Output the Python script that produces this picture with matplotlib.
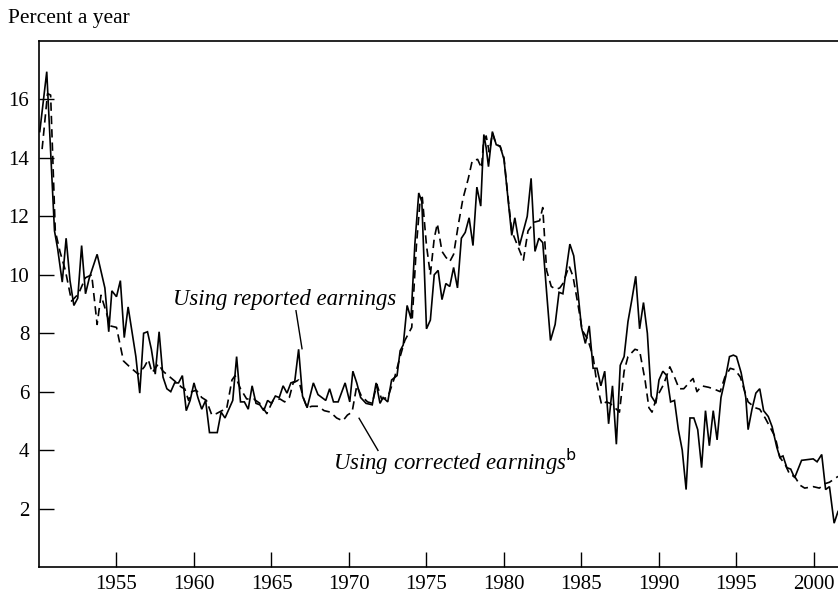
import matplotlib
matplotlib.use("Agg")
import matplotlib.pyplot as plt

# Reported earnings series (year, percent a year)
years_reported = [
    1950.05, 1950.5, 1951.0, 1951.2, 1951.5, 1951.75, 1952.0, 1952.25, 1952.5, 1952.75,
    1953.0, 1953.25, 1953.75, 1954.25, 1954.5, 1954.7, 1955.0, 1955.25, 1955.5, 1955.75,
    1956.25, 1956.5, 1956.75, 1957.0, 1957.25, 1957.5, 1957.75, 1958.0, 1958.25, 1958.5,
    1958.75, 1959.0, 1959.25, 1959.5, 1959.75, 1960.0, 1960.25, 1960.5, 1960.75, 1961.0,
    1961.5, 1961.75, 1962.0, 1962.5, 1962.75, 1963.0, 1963.25, 1963.5, 1963.75, 1964.0,
    1964.25, 1964.5, 1964.75, 1965.0, 1965.25, 1965.5, 1965.75, 1966.0, 1966.25, 1966.5,
    1966.75, 1967.0, 1967.3, 1967.7, 1968.0, 1968.5, 1968.75, 1969.0, 1969.3, 1969.75,
    1970.05, 1970.25, 1970.5, 1970.75, 1971.1, 1971.5, 1971.75, 1972.0, 1972.2, 1972.5,
    1972.75, 1973.1, 1973.3, 1973.5, 1973.75, 1974.0, 1974.25, 1974.5, 1974.7, 1975.0,
    1975.25, 1975.5, 1975.75, 1976.0, 1976.25, 1976.5, 1976.75, 1977.0, 1977.25, 1977.5,
    1977.75, 1978.0, 1978.25, 1978.5, 1978.7, 1978.85, 1979.0, 1979.25, 1979.5, 1979.75,
    1980.0, 1980.25, 1980.5, 1980.7, 1981.0, 1981.5, 1981.75, 1982.0, 1982.25, 1982.5,
    1982.75, 1983.0, 1983.3, 1983.55, 1983.8, 1984.25, 1984.5, 1984.8, 1985.0, 1985.25,
    1985.5, 1985.75, 1986.0, 1986.25, 1986.5, 1986.75, 1987.0, 1987.25, 1987.5, 1987.75,
    1988.0, 1988.25, 1988.5, 1988.75, 1989.0, 1989.25, 1989.5, 1989.8, 1990.0, 1990.25,
    1990.5, 1990.75, 1991.0, 1991.25, 1991.5, 1991.75, 1992.0, 1992.25, 1992.5, 1992.75,
    1993.0, 1993.25, 1993.5, 1993.75, 1994.0, 1994.3, 1994.55, 1994.8, 1995.0, 1995.3,
    1995.6, 1995.75, 1996.0, 1996.25, 1996.5, 1996.75, 1997.05, 1997.3, 1997.6, 1997.8,
    1998.0, 1998.25, 1998.5, 1998.75, 1999.2, 1999.95, 2000.2, 2000.5, 2000.75, 2001.0,
    2001.3, 2001.55,
]
rate_reported = [
    14.9, 16.95, 11.5, 10.9, 9.75, 11.25, 9.8, 8.95, 9.2, 11.0,
    9.35, 9.9, 10.7, 9.55, 8.05, 9.45, 9.25, 9.8, 7.85, 8.9,
    7.2, 5.95, 8.0, 8.05, 7.45, 6.6, 8.05, 6.5, 6.1, 6.0,
    6.3, 6.3, 6.55, 5.35, 5.7, 6.3, 5.8, 5.4, 5.7, 4.6,
    4.6, 5.3, 5.1, 5.7, 7.2, 5.65, 5.65, 5.4, 6.2, 5.6,
    5.55, 5.35, 5.7, 5.6, 5.85, 5.8, 6.2, 5.95, 6.3, 6.35,
    7.45, 5.85, 5.45, 6.3, 5.9, 5.7, 6.1, 5.65, 5.65, 6.3,
    5.65, 6.7, 6.3, 5.8, 5.6, 5.55, 6.3, 5.6, 5.8, 5.65,
    6.4, 6.55, 7.4, 7.6, 8.95, 8.5, 11.05, 12.8, 12.5, 8.15,
    8.45, 10.0, 10.15, 9.15, 9.7, 9.6, 10.25, 9.55, 11.25, 11.45,
    11.95, 11.0, 13.0, 12.35, 14.8, 14.35, 13.7, 14.9, 14.45, 14.4,
    13.95, 12.65, 11.35, 11.95, 11.0, 12.0, 13.3, 10.8, 11.25, 11.1,
    9.4, 7.75, 8.3, 9.4, 9.35, 11.05, 10.65, 9.25, 8.2, 7.65,
    8.25, 6.8, 6.8, 6.2, 6.7, 4.9, 6.2, 4.2, 6.9, 7.2,
    8.4, 9.15, 9.95, 8.15, 9.05, 8.0, 5.85, 5.6, 6.4, 6.7,
    6.55, 5.65, 5.7, 4.7, 4.0, 2.65, 5.1, 5.1, 4.7, 3.4,
    5.35, 4.15, 5.35, 4.35, 5.8, 6.5, 7.2, 7.25, 7.2, 6.65,
    5.8, 4.7, 5.4, 5.95, 6.1, 5.35, 5.15, 4.8, 4.1, 3.75,
    3.8, 3.4, 3.35, 3.05, 3.65, 3.7, 3.6, 3.85, 2.65, 2.75,
    1.5, 1.9,
]

# Corrected earnings series (year, percent a year)
years_corrected = [
    1950.2, 1950.55, 1950.75, 1951.05, 1951.35, 1951.7, 1952.1, 1952.55, 1953.0, 1953.4,
    1953.75, 1954.0, 1954.35, 1954.6, 1955.0, 1955.45, 1955.85, 1956.4, 1956.8, 1957.05,
    1957.3, 1957.7, 1958.0, 1958.45, 1958.9, 1959.2, 1959.4, 1959.65, 1959.85, 1960.15,
    1960.5, 1960.8, 1961.15, 1961.45, 1961.8, 1962.1, 1962.45, 1962.65, 1963.0, 1963.4,
    1963.85, 1964.25, 1964.7, 1965.1, 1965.55, 1965.85, 1966.15, 1966.4, 1966.75, 1967.05,
    1967.3, 1967.6, 1968.0, 1968.4, 1968.8, 1969.2, 1969.6, 1969.9, 1970.2, 1970.5,
    1970.8, 1971.2, 1971.5, 1971.8, 1972.1, 1972.5, 1972.95, 1973.3, 1973.6, 1974.05,
    1974.35, 1974.58, 1974.73, 1975.0, 1975.25, 1975.5, 1975.7, 1976.0, 1976.25, 1976.5,
    1976.75, 1977.05, 1977.35, 1977.7, 1977.95, 1978.3, 1978.55, 1978.68, 1978.85, 1979.05,
    1979.25, 1979.5, 1979.75, 1980.0, 1980.25, 1980.5, 1980.8, 1981.25, 1981.55, 1981.95,
    1982.3, 1982.5, 1982.75, 1983.05, 1983.35, 1983.6, 1983.8, 1984.2, 1984.45, 1984.8,
    1985.05, 1985.4, 1985.75, 1986.0, 1986.3, 1986.6, 1986.85, 1987.15, 1987.45, 1987.75,
    1988.0, 1988.45, 1988.75, 1989.1, 1989.35, 1989.55, 1989.85, 1990.3, 1990.7, 1991.0,
    1991.3, 1991.6, 1992.1, 1992.2, 1992.45, 1992.75, 1993.2, 1993.5, 1993.95, 1994.25,
    1994.6, 1994.9, 1995.25, 1995.45, 1995.75, 1996.2, 1996.5, 1996.85, 1997.15, 1997.5,
    1997.8, 1998.15, 1998.45, 1998.75, 1999.1, 1999.4, 1999.95, 2000.35, 2000.7, 2001.0,
    2001.55,
]
rate_corrected = [
    14.3, 16.2, 16.15, 11.5, 10.8, 10.15, 9.1, 9.35, 9.9, 10.0,
    8.3, 9.3, 8.7, 8.25, 8.2, 7.05, 6.85, 6.6, 6.85, 7.1,
    6.65, 6.95, 6.7, 6.5, 6.3, 6.15, 6.1, 5.7, 6.0, 6.05,
    5.8, 5.7, 5.2, 5.25, 5.35, 5.4, 6.4, 6.55, 6.1, 5.75,
    5.75, 5.6, 5.25, 5.7, 5.75, 5.65, 5.8, 6.3, 6.4, 5.8,
    5.45, 5.5, 5.5, 5.35, 5.3, 5.1, 5.0, 5.2, 5.3, 6.2,
    5.85, 5.65, 5.6, 6.25, 5.75, 5.8, 6.5, 7.2, 7.75, 8.2,
    11.0, 12.5, 12.65, 11.0, 10.0, 11.25, 11.75, 10.8, 10.6, 10.45,
    10.7, 11.7, 12.6, 13.3, 13.9, 13.95, 13.65, 14.55, 14.75, 14.2,
    14.85, 14.45, 14.4, 14.0, 12.7, 11.5, 11.1, 10.5, 11.5, 11.8,
    11.85, 12.3, 10.15, 9.6, 9.5, 9.55, 9.7, 10.3, 9.95, 8.9,
    8.1, 7.8, 7.2, 6.25, 5.55, 5.65, 5.6, 5.45, 5.3, 6.7,
    7.2, 7.45, 7.4, 6.4, 5.45, 5.3, 5.8, 6.25, 6.85, 6.5,
    6.1, 6.1, 6.4, 6.45, 6.0, 6.2, 6.15, 6.1, 6.0, 6.5,
    6.8, 6.75, 6.5, 6.15, 5.65, 5.45, 5.4, 5.1, 4.8, 4.45,
    3.75, 3.5, 3.15, 3.1, 2.8, 2.7, 2.75, 2.7, 2.85, 2.9,
    3.1,
]

x_ticks = [1955, 1960, 1965, 1970, 1975, 1980, 1985, 1990, 1995, 2000]
y_ticks = [2, 4, 6, 8, 10, 12, 14, 16]

plt.rcParams['font.family'] = ['Liberation Serif', 'DejaVu Serif']

fig = plt.figure(figsize=(8.38, 5.95), dpi=100)
ax = fig.add_axes([39 / 838, 1 - 567 / 595, 1 - 39 / 838, (567 - 41) / 595])

ax.plot(years_reported, rate_reported, color='black', lw=1.2, solid_joinstyle='miter')
ax.plot(years_corrected, rate_corrected, color='black', lw=1.2, dashes=(5, 3))

ax.set_xlim(1950, 2001.55)
ax.set_ylim(0, 18)
ax.set_xticks(x_ticks)
ax.set_yticks(y_ticks)
ax.tick_params(direction='in', length=11, width=1.0, labelsize=15, colors='black')
ax.tick_params(axis='x', pad=5.5)
ax.tick_params(axis='y', pad=7)
ax.spines['right'].set_visible(False)
for s in ['left', 'bottom', 'top']:
    ax.spines[s].set_linewidth(1.2)

fig.text(8 / 838, 1 - 18 / 595, 'Percent a year', fontsize=15.5, ha='left', va='center')

ax.text(1958.65, 9.15, 'Using reported earnings', fontsize=16.4, style='italic',
        ha='left', va='center')
ax.plot([1966.58, 1966.97], [8.77, 7.47], color='black', lw=1.0)

ax.text(1968.97, 3.6, 'Using corrected earnings$^{\\mathrm{b}}$', fontsize=16.4, style='italic',
        ha='left', va='center')
ax.plot([1970.65, 1971.87], [5.09, 3.99], color='black', lw=1.0)

fig.savefig('out.png', dpi=100)
